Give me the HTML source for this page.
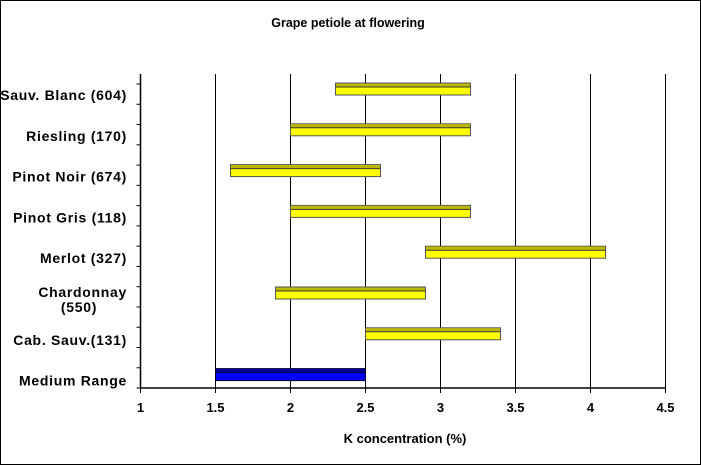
<!DOCTYPE html>
<html><head><meta charset="utf-8"><style>
body{margin:0;background:#fff}
svg{display:block;font-family:"Liberation Sans",Arial,sans-serif;font-weight:bold}
</style></head><body>
<svg width="701" height="465">
<rect x="0.5" y="0.5" width="700" height="464" fill="#fff" stroke="#000"/>
<text x="348" y="27" font-size="12.5" text-anchor="middle">Grape petiole at flowering</text>
<g id="grid"></g><g id="bars"></g><g id="ylabels"></g><g id="xlabels"></g>
<text x="405" y="443" font-size="13" text-anchor="middle">K concentration (%)</text>
</svg>
<script>
const categories=["Sauv. Blanc (604)","Riesling (170)","Pinot Noir (674)","Pinot Gris (118)","Merlot (327)","Chardonnay|(550)","Cab. Sauv.(131)","Medium Range"];
const lowValues=[2.3,2.0,1.6,2.0,2.9,1.9,2.5,1.5];
const highValues=[3.2,3.2,2.6,3.2,4.1,2.9,3.4,2.5];
const xTicks=[1,1.5,2,2.5,3,3.5,4,4.5];
const xTickLabels=["1","1.5","2","2.5","3","3.5","4","4.5"];
const NS="http://www.w3.org/2000/svg";
const X0=140.5,XS=150,TOP=74,BOT=388;
const xs=v=>X0+(v-1)*XS;
const rowTop=i=>83+i*40.8;
function mk(t,a,p){const e=document.createElementNS(NS,t);for(const k in a)e.setAttribute(k,a[k]);p.appendChild(e);return e;}
const g=document.getElementById('grid');
xTicks.forEach((t,i)=>{
  if(i>0){const l=mk('line',{x1:xs(t),x2:xs(t),y1:TOP,y2:BOT,stroke:'#000','stroke-width':1},g);
  
  }
  const tk=mk('line',{x1:xs(t),x2:xs(t),y1:BOT,y2:BOT+5,stroke:'#000'},g);
  
  
  const tx=mk('text',{x:xs(t),y:412,'font-size':13,'text-anchor':'middle'},document.getElementById('xlabels'));
  tx.textContent=xTickLabels[i];
  
  
});
const ax=mk('line',{x1:X0,x2:X0,y1:TOP,y2:BOT,stroke:'#000','stroke-width':1.5},g);


const bx=mk('line',{x1:X0,x2:xs(4.5),y1:BOT,y2:BOT,stroke:'#000','stroke-width':1.5},g);


for(let k=0;k<16;k++){const y=84+k*20.27;const t=mk('line',{x1:X0-4,x2:X0,y1:y,y2:y,stroke:'#000'},g);
  
  }
const bg=document.getElementById('bars'),yl=document.getElementById('ylabels');
categories.forEach((c,i)=>{
  const blue=i===categories.length-1;
  const x1=xs(lowValues[i]),x2=xs(highValues[i]),y=rowTop(i);
  const grp=mk('g',{},bg);
  
  
  mk('rect',{x:x1,y:y,width:x2-x1,height:12,fill:blue?'#0000ff':'#ffff00',stroke:blue?'#000033':'#555','stroke-width':1},grp);
  mk('rect',{x:x1+0.5,y:y+0.5,width:x2-x1-1,height:3,fill:blue?'#000099':'#bdb800'},grp);
  mk('line',{x1:x1,x2:x2,y1:y+4,y2:y+4,stroke:blue?'#000033':'#333','stroke-width':1},grp);
  const parts=c.split('|');
  parts.forEach((p,j)=>{
    const multi=parts.length>1;
    const t=mk('text',{x:multi&&j===1?79:127,y:multi?y+10+j*15:y+17,'font-size':14,'letter-spacing':0.7,'text-anchor':multi&&j===1?'middle':'end'},yl);
    t.textContent=p;
    
    
  });
});
</script>
</body></html>
